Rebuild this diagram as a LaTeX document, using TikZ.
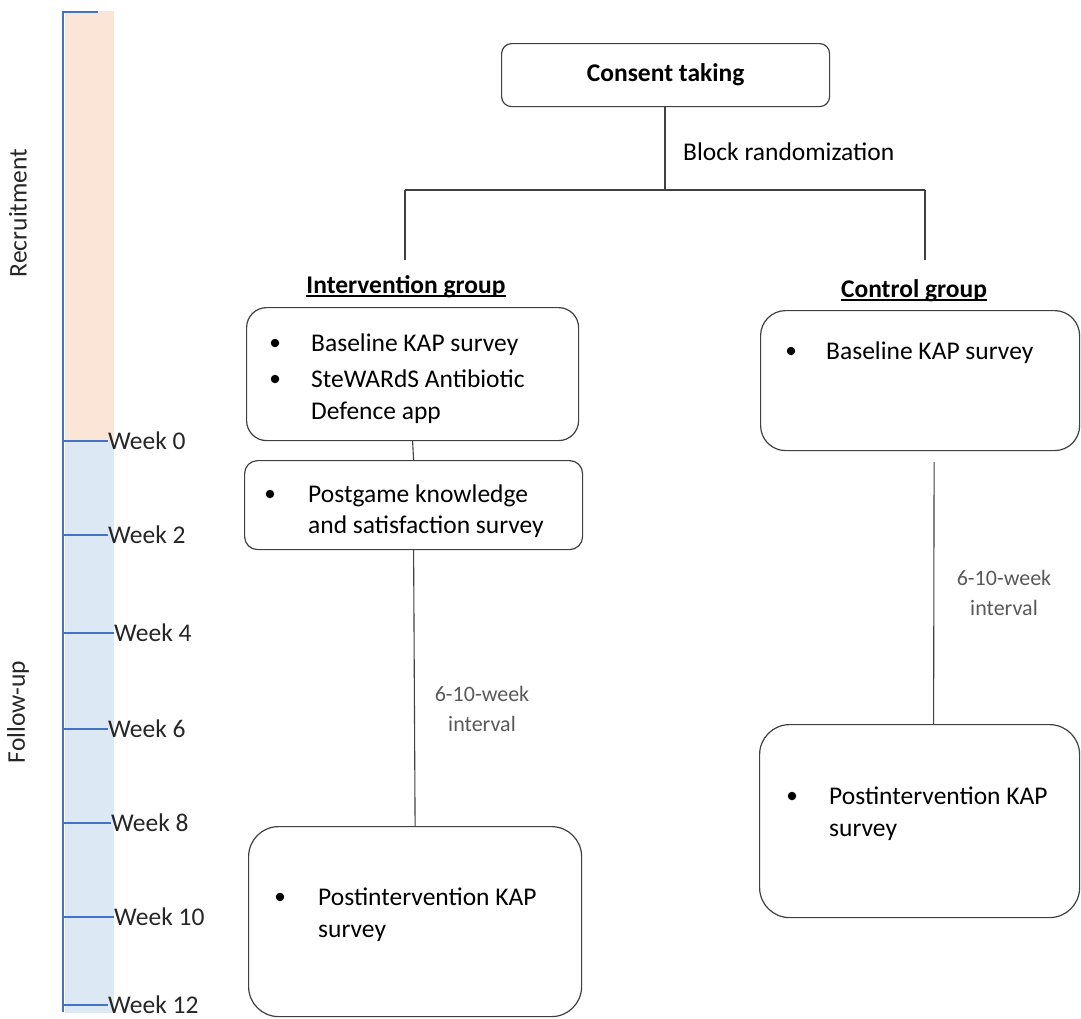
\documentclass[tikz,border=0pt]{standalone}
\usepackage{fontspec}
\setmainfont{Carlito}
\usetikzlibrary{positioning,calc}
\definecolor{peach}{HTML}{FBE5D6}
\definecolor{paleblue}{HTML}{DDE8F5}
\definecolor{axisblue}{HTML}{4472C4}
\definecolor{linegray}{HTML}{404040}
\definecolor{notegray}{HTML}{595959}
\tikzset{
  box/.style={draw=linegray,line width=1.2pt,anchor=north west,inner sep=0pt},
  txt/.style={inner sep=0pt,anchor=base west,font=\fontsize{25.5}{30}\selectfont},
  hd/.style={inner sep=0pt,anchor=base,font=\fontsize{25.5}{30}\selectfont\bfseries},
  bul/.style={circle,fill=black,inner sep=0pt,minimum size=8.5pt},
  conn/.style={draw=linegray,line width=1.1pt},
  note/.style={align=center,text=notegray,font=\fontsize{22}{30}\selectfont},
  wk/.style={inner sep=0pt,anchor=west,text=black!85,font=\fontsize{25.5}{30}\selectfont},
  tick/.style={axisblue,line width=1.3pt}
}

\begin{document}
\begin{tikzpicture}[x=1pt,y=-1pt]
    \useasboundingbox (0,0) rectangle (1081,1018);
    \fill [peach] (65,11) rectangle (114,441);
    \fill [paleblue] (65,441) rectangle (114,1013);
    \draw [tick] (63,11) -- (63,1012);
    \draw [tick] (62,12) -- (98,12);
    \node [wk,rotate=90,anchor=center] (recruit) at (18,213) {Recruitment};
    \node [wk,rotate=90,anchor=center] (followup) at (18,712) {Follow-up};
    \foreach \w/\y/\x in {0/441/108,2/535/108,4/633/114,6/729/108,8/823/111,10/917/114,12/1005/108}{
      \node [wk] (wk\w) at (\x,\y) {Week \w};
      \draw [tick] (64,\y) -- (wk\w.west);
    }

    \node [box,minimum width=328pt,minimum height=63pt,rounded corners=10pt,
      font=\fontsize{25.5}{30}\selectfont\bfseries] (consent) at (501,43) {Consent taking};
    \coordinate (split) at (665,190);
    \coordinate (splitL) at (405,190);
    \coordinate (splitR) at (925,190);
    \draw [conn] (consent.south -| split) -- (split);
    \draw [conn] (splitL) -- (splitR);
    \draw [conn] (splitL) -- ++(0,70) coordinate (igtop);
    \draw [conn] (splitR) -- ++(0,70) coordinate (cgtop);
    \node [txt] (blockrand) at (683,160) {Block randomization};

    \node [hd] (ig) at (406,293) {Intervention group};
    \draw [line width=1.1pt] ([yshift=-3pt]ig.base west) -- ([yshift=-3pt]ig.base east);
    \node [hd] (cg) at (914,297) {Control group};
    \draw [line width=1.1pt] ([yshift=-3pt]cg.base west) -- ([yshift=-3pt]cg.base east);

    \node [box,minimum width=332pt,minimum height=133pt,rounded corners=20pt] (ib1) at (246,307) {};
    \node [bul] (ib1d1) at (275,343) {};
    \node [txt] (ib1t1) at (311,351) {Baseline KAP survey};
    \node [bul] (ib1d2) at (275,379) {};
    \node [txt] (ib1t2) at (311,387) {SteWARdS Antibiotic};
    \node [txt] (ib1t3) at (311,419) {Defence app};

    \node [box,minimum width=338pt,minimum height=89pt,rounded corners=13pt] (ib2) at (244,460) {};
    \node [bul] (ib2d1) at (270,494) {};
    \node [txt] (ib2t1) at (308,502) {Postgame knowledge};
    \node [txt] (ib2t2) at (308,533) {and satisfaction survey};
    \draw [conn] (ib1.south) -- (ib2.north);

    \node [box,minimum width=333pt,minimum height=190pt,rounded corners=30pt] (ib3) at (248,826) {};
    \node [bul] (ib3d1) at (280,897) {};
    \node [txt] (ib3t1) at (318,905) {Postintervention KAP};
    \node [txt] (ib3t2) at (318,937) {survey};
    \draw [conn] (ib2.south) -- (ib3.north);
    \node [note] (igap) at (482,709) {6-10-week\\interval};

    \node [box,minimum width=319pt,minimum height=140pt,rounded corners=25pt] (cb1) at (760,310) {};
    \node [bul] (cb1d1) at (791,351) {};
    \node [txt] (cb1t1) at (826,359) {Baseline KAP survey};

    \node [box,minimum width=320pt,minimum height=193pt,rounded corners=30pt] (cb2) at (759,724) {};
    \node [bul] (cb2d1) at (792,796) {};
    \node [txt] (cb2t1) at (829,804) {Postintervention KAP};
    \node [txt] (cb2t2) at (829,836) {survey};
    \draw [conn] ([xshift=14pt,yshift=-11pt]cb1.south) -- ([xshift=14pt]cb2.north);
    \node [note] (cgap) at (1004,593) {6-10-week\\interval};
  \end{tikzpicture}
\end{document}
